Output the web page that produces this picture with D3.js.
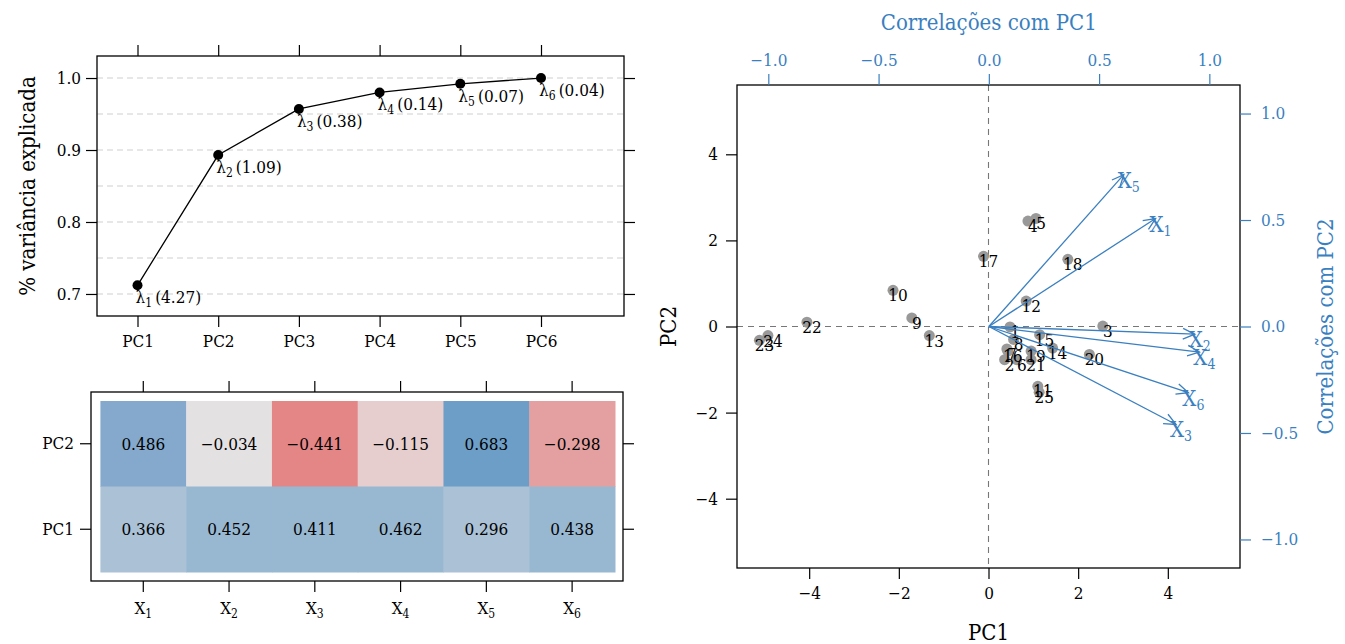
<!DOCTYPE html>
<html><head><meta charset="utf-8">
<script src="https://cdn.jsdelivr.net/npm/d3@7"></script>
<style>
html,body{margin:0;padding:0;background:#fff;}
svg{display:block;font-family:"DejaVu Serif Condensed","DejaVu Serif",serif;}
</style></head>
<body>
<svg id="chart" width="1345" height="644"></svg>
<script>
// ---------------- DATA ----------------
const components = ["PC1", "PC2", "PC3", "PC4", "PC5", "PC6"];
const eigenvalues = [4.27, 1.09, 0.38, 0.14, 0.07, 0.04];
const cumVariance = [0.712, 0.893, 0.957, 0.980, 0.992, 1.000];
const screeTicks = [0.7, 0.8, 0.9, 1.0];
const screeGrid = [0.70, 0.75, 0.80, 0.85, 0.90, 0.95, 1.00];

const variables = ["1", "2", "3", "4", "5", "6"]; // X subscripts
const loadingsPC1 = [0.366, 0.452, 0.411, 0.462, 0.296, 0.438];
const loadingsPC2 = [0.486, -0.034, -0.441, -0.115, 0.683, -0.298];
const heatRows = ["PC2", "PC1"];
const heatBreaks = [-0.4, -0.2, -0.08, 0.08, 0.2, 0.4, 0.47, 0.6];
const heatColors = ["#e48686", "#e4a0a0", "#e6cece", "#e4e1e2", "#c9d4de", "#aac1d6", "#98b8d2", "#84a9cc", "#6c9ec8"];

const corrPC1 = [0.756, 0.934, 0.849, 0.955, 0.612, 0.905];
const corrPC2 = [0.507, -0.036, -0.460, -0.120, 0.713, -0.311];

const obsIds = ["1","2","3","4","5","6","7","8","9","10","11","12","13","14","15","16","17","18","19","20","21","22","23","24","25"];
const scoresPC1 = [0.48, 0.36, 2.55, 0.88, 1.06, 0.63, 0.41, 0.56, -1.71, -2.13, 1.10, 0.84, -1.32, 1.43, 1.14, 0.43, -0.11, 1.77, 0.95, 2.25, 0.95, -4.05, -5.11, -4.92, 1.13];
const scoresPC2 = [-0.01, -0.77, 0.01, 2.45, 2.51, -0.77, -0.52, -0.30, 0.20, 0.84, -1.39, 0.59, -0.21, -0.50, -0.19, -0.57, 1.63, 1.56, -0.57, -0.65, -0.77, 0.10, -0.32, -0.21, -1.53];
const scoreTicks = [-4, -2, 0, 2, 4];
const corrTicks = [-1.0, -0.5, 0.0, 0.5, 1.0];

// ---------------- STYLE ----------------
const BLUE = "#3a7fbf";
const FS = 17, FT = 22;
const svg = d3.select("#chart");
const fmt1 = d3.format(".1f");
const fmt2 = d3.format(".2f");
const fmt3 = d3.format(".3f");

function boxAxis(g, axis, transform, color) {
  const a = g.append("g").attr("transform", transform).call(axis);
  a.attr("font-family", null).attr("font-size", null);
  a.select(".domain").remove();
  a.selectAll("line").attr("stroke", color || "#000").attr("stroke-width", 1.2);
  a.selectAll("text").attr("fill", color || "#000").attr("font-size", FS);
  return a;
}

// ================= SCREE PLOT =================
{
  const L = 97, R = 624, T = 56, B = 316;
  const x = d3.scalePoint().domain(components).range([137.5, 541]);
  const y = d3.scaleLinear().domain([0.6694, 1.0306]).range([B, T]);
  const g = svg.append("g");
  g.selectAll("line.grid").data(screeGrid).join("line")
    .attr("x1", L).attr("x2", R).attr("y1", d => y(d)).attr("y2", d => y(d))
    .attr("stroke", "#d0d0d0").attr("stroke-dasharray", "6,4").attr("stroke-width", 1.1);
  g.append("rect").attr("x", L).attr("y", T).attr("width", R - L).attr("height", B - T)
    .attr("fill", "none").attr("stroke", "#000").attr("stroke-width", 1.3);
  boxAxis(g, d3.axisBottom(x).tickSize(11).tickPadding(5), `translate(0,${B})`).selectAll("text").attr("dy", "0.9em");
  boxAxis(g, d3.axisTop(x).tickSize(11).tickFormat(""), `translate(0,${T})`);
  boxAxis(g, d3.axisLeft(y).tickValues(screeTicks).tickSize(11).tickPadding(5).tickFormat(fmt1), `translate(${L},0)`);
  boxAxis(g, d3.axisRight(y).tickValues(screeTicks).tickSize(11).tickFormat(""), `translate(${R},0)`);

  const line = d3.line().x((d, i) => x(components[i])).y(d => y(d));
  g.append("path").datum(cumVariance).attr("d", line).attr("fill", "none").attr("stroke", "#000").attr("stroke-width", 1.3);
  g.selectAll("circle").data(cumVariance).join("circle")
    .attr("cx", (d, i) => x(components[i])).attr("cy", d => y(d)).attr("r", 5).attr("fill", "#000");
  const lab = g.selectAll("text.lam").data(cumVariance).join("text")
    .attr("x", (d, i) => x(components[i]) - 2).attr("y", d => y(d) + 18).attr("font-size", FS);
  lab.append("tspan").text("λ");
  lab.append("tspan").attr("font-size", 12).attr("dy", 4).text((d, i) => i + 1);
  lab.append("tspan").attr("dy", -4).text((d, i) => "\u2009(" + fmt2(eigenvalues[i]) + ")");

  g.append("text").attr("transform", `translate(27,${(T + B) / 2}) rotate(-90)`)
    .attr("text-anchor", "middle").attr("dominant-baseline", "central").attr("font-size", FT)
    .text("% variância explicada");
}

// ================= HEATMAP =================
{
  const L = 91, R = 623, T = 392, B = 581;
  const x = d3.scaleBand().domain(variables).range([100.4, 615]);
  const y = d3.scaleBand().domain(heatRows).range([401, 572]);
  const col = d3.scaleThreshold().domain(heatBreaks).range(heatColors);
  const cells = [];
  heatRows.forEach(r => variables.forEach((v, i) => cells.push({ r, v, val: r === "PC1" ? loadingsPC1[i] : loadingsPC2[i] })));
  const g = svg.append("g");
  g.selectAll("rect.cell").data(cells).join("rect")
    .attr("x", d => x(d.v)).attr("y", d => y(d.r)).attr("width", x.bandwidth() + 0.5).attr("height", y.bandwidth() + 0.5)
    .attr("fill", d => col(d.val));
  g.selectAll("text.val").data(cells).join("text")
    .attr("x", d => x(d.v) + x.bandwidth() / 2).attr("y", d => y(d.r) + y.bandwidth() / 2)
    .attr("text-anchor", "middle").attr("dominant-baseline", "central").attr("font-size", FS)
    .text(d => fmt3(d.val));
  g.append("rect").attr("x", L).attr("y", T).attr("width", R - L).attr("height", B - T)
    .attr("fill", "none").attr("stroke", "#000").attr("stroke-width", 1.3);
  boxAxis(g, d3.axisBottom(x).tickSize(11).tickPadding(8).tickFormat(""), `translate(0,${B})`);
  boxAxis(g, d3.axisTop(x).tickSize(11).tickFormat(""), `translate(0,${T})`);
  boxAxis(g, d3.axisLeft(y).tickSize(11).tickPadding(6), `translate(${L},0)`);
  boxAxis(g, d3.axisRight(y).tickSize(11).tickFormat(""), `translate(${R},0)`);
  const xl = g.selectAll("text.xl").data(variables).join("text")
    .attr("x", d => x(d) + x.bandwidth() / 2).attr("y", 614).attr("text-anchor", "middle").attr("font-size", FS);
  xl.append("tspan").text("X");
  xl.append("tspan").attr("font-size", 12).attr("dy", 4).text(d => d);
}

// ================= BIPLOT =================
{
  const L = 737, R = 1240, T = 85, B = 568;
  const x = d3.scaleLinear().domain([-5.61, 5.61]).range([L, R]);
  const y = d3.scaleLinear().domain([-5.61, 5.61]).range([B, T]);
  const cx = d3.scaleLinear().domain([-1.142, 1.139]).range([L, R]);
  const cy = d3.scaleLinear().domain([-1.134, 1.134]).range([B, T]);
  const g = svg.append("g");
  g.append("line").attr("x1", x(0)).attr("x2", x(0)).attr("y1", T).attr("y2", B)
    .attr("stroke", "#777").attr("stroke-dasharray", "6,5").attr("stroke-width", 1.1);
  g.append("line").attr("x1", L).attr("x2", R).attr("y1", y(0)).attr("y2", y(0))
    .attr("stroke", "#777").attr("stroke-dasharray", "6,5").attr("stroke-width", 1.1);

  const obs = obsIds.map((id, i) => ({ id, px: scoresPC1[i], py: scoresPC2[i] }));
  g.selectAll("circle.obs").data(obs).join("circle")
    .attr("cx", d => x(d.px)).attr("cy", d => y(d.py)).attr("r", 5.5).attr("fill", "#999");
  g.selectAll("text.obs").data(obs).join("text")
    .attr("x", d => x(d.px) + 5).attr("y", d => y(d.py) + 5)
    .attr("text-anchor", "middle").attr("dominant-baseline", "central").attr("font-size", FS)
    .text(d => d.id);

  // arrows
  const arr = variables.map((v, i) => ({ v, a: corrPC1[i], b: corrPC2[i] }));
  const ag = g.append("g").attr("stroke", BLUE).attr("stroke-width", 1.3).attr("fill", "none");
  arr.forEach(d => {
    const x0 = cx(0), y0 = cy(0), x1 = cx(d.a), y1 = cy(d.b);
    const ang = Math.atan2(y1 - y0, x1 - x0), len = 13, sp = 0.42;
    ag.append("line").attr("x1", x0).attr("y1", y0).attr("x2", x1).attr("y2", y1);
    ag.append("path").attr("d",
      `M${x1 - len * Math.cos(ang - sp)},${y1 - len * Math.sin(ang - sp)}L${x1},${y1}L${x1 - len * Math.cos(ang + sp)},${y1 - len * Math.sin(ang + sp)}`);
  });
  const al = g.selectAll("text.arr").data(arr).join("text")
    .attr("x", d => cx(d.a) + 5).attr("y", d => cy(d.b) + 13)
    .attr("text-anchor", "middle").attr("font-size", FT).attr("fill", BLUE);
  al.append("tspan").text("X");
  al.append("tspan").attr("font-size", 14).attr("dy", 4).text(d => d.v);

  g.append("rect").attr("x", L).attr("y", T).attr("width", R - L).attr("height", B - T)
    .attr("fill", "none").attr("stroke", "#000").attr("stroke-width", 1.3);
  boxAxis(g, d3.axisBottom(x).tickValues(scoreTicks).tickSize(11).tickPadding(8).tickFormat(d3.format("d")), `translate(0,${B})`);
  boxAxis(g, d3.axisLeft(y).tickValues(scoreTicks).tickSize(11).tickPadding(8).tickFormat(d3.format("d")), `translate(${L},0)`);
  boxAxis(g, d3.axisTop(cx).tickValues(corrTicks).tickSize(11).tickPadding(8).tickFormat(fmt1), `translate(0,${T})`, BLUE);
  boxAxis(g, d3.axisRight(cy).tickValues(corrTicks).tickSize(11).tickPadding(10).tickFormat(fmt1), `translate(${R},0)`, BLUE);

  g.append("text").attr("x", (L + R) / 2).attr("y", 632).attr("text-anchor", "middle").attr("dominant-baseline", "central")
    .attr("font-size", FT).text("PC1");
  g.append("text").attr("transform", `translate(668,${(T + B) / 2}) rotate(-90)`).attr("text-anchor", "middle")
    .attr("dominant-baseline", "central").attr("font-size", FT).text("PC2");
  g.append("text").attr("x", cx(0)).attr("y", 22).attr("text-anchor", "middle").attr("dominant-baseline", "central")
    .attr("font-size", FT).attr("fill", BLUE).text("Correlações com PC1");
  g.append("text").attr("transform", `translate(1325,${cy(0)}) rotate(-90)`).attr("text-anchor", "middle")
    .attr("dominant-baseline", "central").attr("font-size", FT).attr("fill", BLUE).text("Correlações com PC2");
}
</script>
</body></html>
